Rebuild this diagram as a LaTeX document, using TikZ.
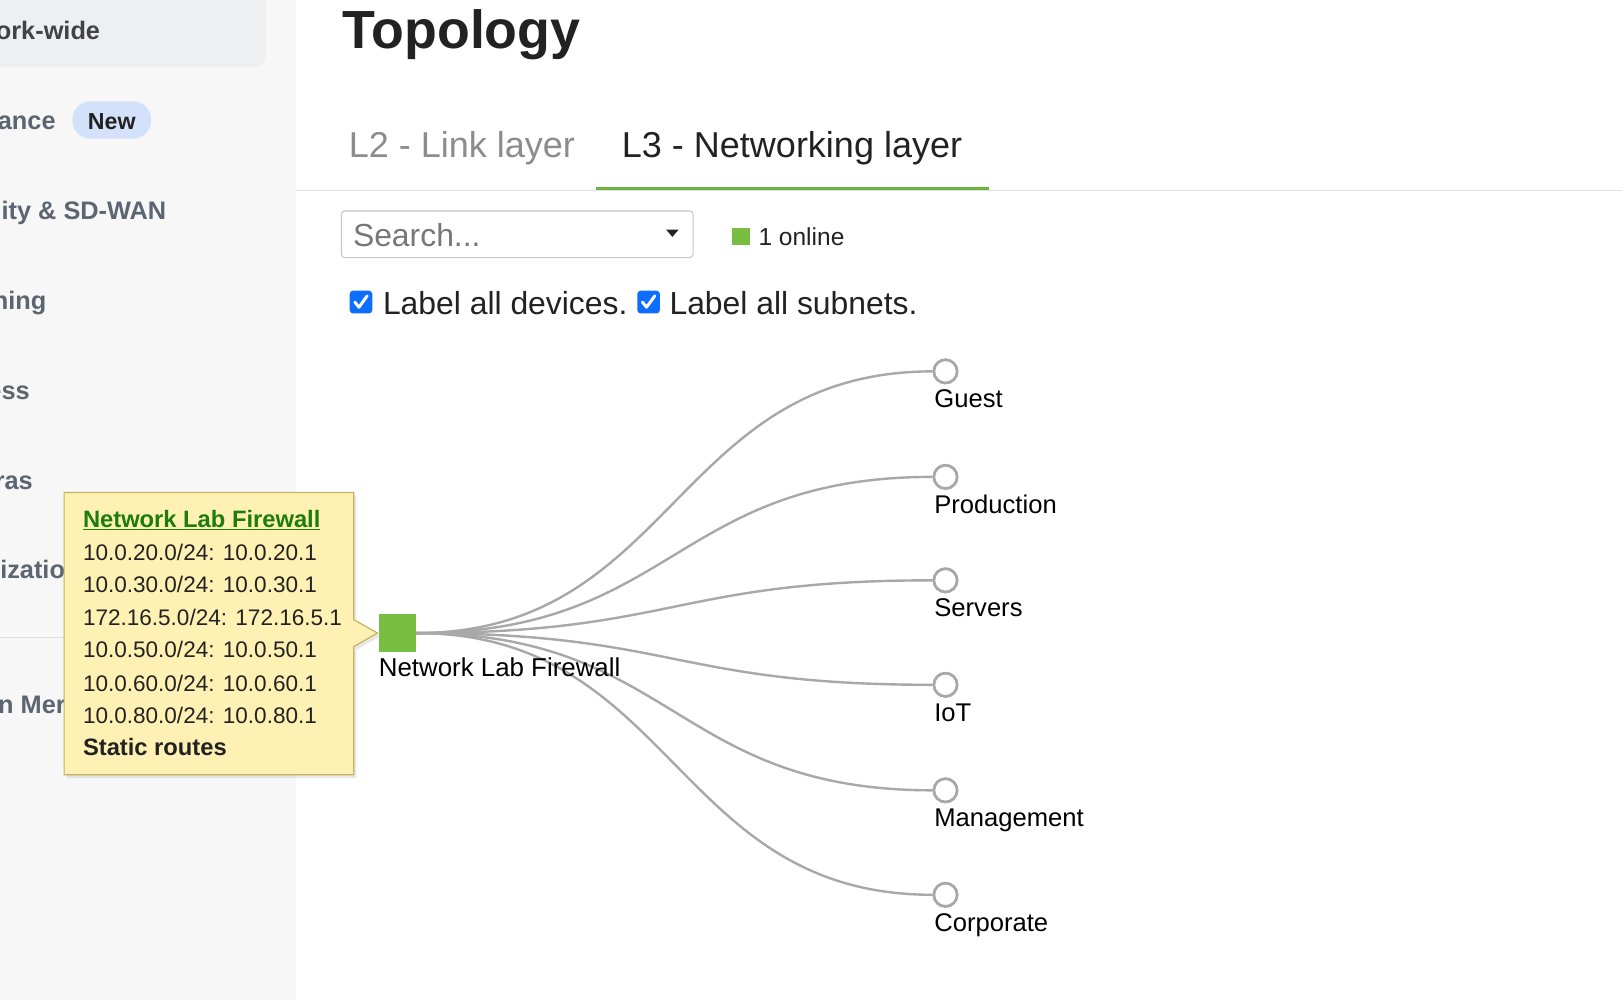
\documentclass[tikz,border=0pt]{standalone}
\usepackage{fontspec}
\setmainfont{Liberation Sans}
\usetikzlibrary{positioning,shadows}

\definecolor{sidebg}{HTML}{F7F7F7}
\definecolor{sidesel}{HTML}{EEEFF1}
\definecolor{sidegray}{HTML}{5D6571}
\definecolor{pillblue}{HTML}{D3E1FA}
\definecolor{inkdark}{HTML}{222222}
\definecolor{tabgray}{HTML}{8C8C8C}
\definecolor{tabgreen}{HTML}{6CB33F}
\definecolor{rulegray}{HTML}{E0E0E0}
\definecolor{boxgray}{HTML}{C6C6C6}
\definecolor{hintgray}{HTML}{777777}
\definecolor{fwgreen}{HTML}{78BE43}
\definecolor{cbblue}{HTML}{0D6EFD}
\definecolor{linkgray}{HTML}{A8A8A8}
\definecolor{tipfill}{HTML}{FFF1B3}
\definecolor{tipedge}{HTML}{C9B25E}
\definecolor{tiplink}{HTML}{1C7C0C}

\tikzset{
	side/.style={anchor=base east, inner sep=0pt, text=sidegray,
		font=\fontsize{19}{22}\selectfont\bfseries},
	tabtext/.style={anchor=base west, inner sep=0pt,
		font=\fontsize{27}{30}\selectfont},
	uitext/.style={anchor=base west, inner sep=0pt, text=inkdark,
		font=\fontsize{23.9}{27}\selectfont},
	checkbox/.style={rectangle, rounded corners=2.5pt, fill=cbblue,
		minimum size=17pt, inner sep=0pt},
	tick/.style={draw=white, line width=2.2pt, line cap=round, line join=round},
	link/.style={draw=linkgray, line width=1.8pt},
	subnet/.style={circle, draw=linkgray, line width=2pt, fill=white,
		minimum size=17.4pt, inner sep=0pt},
	sublabel/.style={anchor=base west, inner sep=0pt, text=black,
		font=\fontsize{19.2}{22}\selectfont},
	device/.style={rectangle, fill=fwgreen, minimum size=27.9pt, inner sep=0pt},
	tipline/.style={anchor=base west, inner sep=0pt, text=inkdark,
		font=\fontsize{16.9}{19}\selectfont}
}

\begin{document}
\begin{tikzpicture}[x=0.7758pt, y=-0.7758pt]
	\useasboundingbox (0,0) rectangle (1568,967);
	%sidebar
	\fill[sidebg] (0,0) rectangle (286,967);
	\fill[sidesel, rounded corners=9pt] (-30,-30) rectangle (257,65);
	\draw[rulegray, line width=0.8pt] (0,616) -- (286,616);
	\node[side, text=inkdark!85] (nav1) at (97,38) {ork-wide};
	\node[side] (nav2) at (54,125) {ance};
	\node[rectangle, rounded corners=13.5pt, fill=pillblue, minimum width=59pt,
		minimum height=28pt, inner sep=0pt] (newpill) at (108,116) {};
	\node[inkdark, font=\fontsize{17.4}{20}\selectfont\bfseries, inner sep=0pt,
		anchor=base] (newtxt) at (108,125) {New};
	\node[side] (nav3) at (161,212) {ity \& SD-WAN};
	\node[side] (nav4) at (45,299) {ning};
	\node[side] (nav5) at (29,386) {ess};
	\node[side] (nav6) at (32,473) {ras};
	\node[side, anchor=base west] (nav7) at (0,559) {ization};
	\node[side, anchor=base west] (nav8) at (-2,690) {n Mer};
	%header
	\node[anchor=base west, inner sep=0pt, text=inkdark,
		font=\fontsize{40.3}{44}\selectfont\bfseries] (title) at (331,47) {Topology};
	\node[tabtext, text=tabgray] (tabL2) at (337,152) {L2 - Link layer};
	\node[tabtext, text=inkdark] (tabL3) at (601,152) {L3 - Networking layer};
	\draw[rulegray, line width=0.8pt] (286,184) -- (1568,184);
	\draw[tabgreen, line width=2.4pt] (576,182) -- (956,182);
	%toolbar
	\draw[boxgray, line width=0.8pt, rounded corners=2.5pt] (330,204) rectangle (670,249);
	\node[uitext, text=hintgray] (search) at (341,238) {Search...};
	\fill[inkdark] (644,222) -- (656,222) -- (650,229) -- cycle;
	\node[rectangle, fill=fwgreen, minimum size=13.2pt, inner sep=0pt] (legend) at (716.5,228.5) {};
	\node[uitext, font=\fontsize{18.4}{21}\selectfont] (online) at (733,237) {1 online};
	\node[checkbox] (cb1) at (349,292) {};
	\draw[tick] ([shift={(-6,0)}]cb1.center) -- ([shift={(-2,5)}]cb1.center) -- ([shift={(6,-6)}]cb1.center);
	\node[uitext] (cb1-lbl) at (370,304) {Label all devices.};
	\node[checkbox] (cb2) at (627,292) {};
	\draw[tick] ([shift={(-6,0)}]cb2.center) -- ([shift={(-2,5)}]cb2.center) -- ([shift={(6,-6)}]cb2.center);
	\node[uitext] (cb2-lbl) at (647,304) {Label all subnets.};
	%graph
	\node[device] (fw) at (384,612) {};
	\foreach \name/\lbl/\y in {guest/Guest/359, prod/Production/461, srv/Servers/561,
		iot/IoT/662, mgmt/Management/764, corp/Corporate/865}
	{
		\node[subnet] (\name) at (914,\y) {};
		\draw[link] (fw.east) .. controls +(250,0) and +(-250,0) .. (\name.west);
		\node[subnet] at (\name) {};
		\node[sublabel] (\name-lbl) at (903,\y+35) {\lbl};
	}
	\node[device] at (fw) {};
	\node[sublabel, font=\fontsize{19.4}{22}\selectfont] (fw-lbl) at (366,654) {Network Lab Firewall};
	%tooltip
	\draw[tipedge, fill=tipfill, line width=0.9pt,
		drop shadow={opacity=0.18, shadow xshift=2pt, shadow yshift=-2.5pt}]
		(62,476) -- (342,476) -- (342,599) -- (365,612) -- (342,625) -- (342,749) -- (62,749) -- cycle;
	\node[tipline, text=tiplink, font=\fontsize{17.8}{20}\selectfont\bfseries] (tip-title) at (80,510)
		{\underline{Network Lab Firewall}};
	\node[tipline] (route1) at (80,542) {10.0.20.0/24: 10.0.20.1};
	\node[tipline] (route2) at (80,573) {10.0.30.0/24: 10.0.30.1};
	\node[tipline] (route3) at (80,605) {172.16.5.0/24: 172.16.5.1};
	\node[tipline] (route4) at (80,636) {10.0.50.0/24: 10.0.50.1};
	\node[tipline] (route5) at (80,668) {10.0.60.0/24: 10.0.60.1};
	\node[tipline] (route6) at (80,699) {10.0.80.0/24: 10.0.80.1};
	\node[tipline, font=\fontsize{17.8}{20}\selectfont\bfseries] (static) at (80,730) {Static routes};
\end{tikzpicture}
\end{document}
